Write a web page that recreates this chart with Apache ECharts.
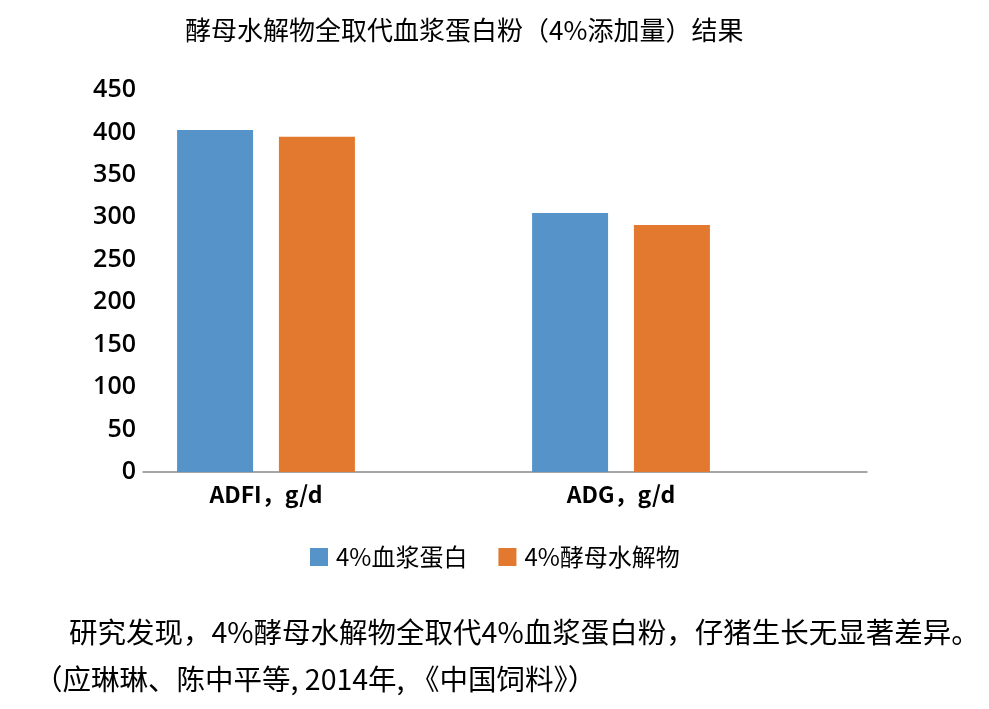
<!DOCTYPE html>
<html>
<head>
<meta charset="utf-8">
<script src="https://cdn.jsdelivr.net/npm/echarts@6/dist/echarts.min.js"></script>
<style>
html,body{margin:0;padding:0;background:#fff;}
#main{width:989px;height:709px;}
</style>
</head>
<body>
<div id="main"></div>
<script>
var titleText = '酵母水解物全取代血浆蛋白粉（4%添加量）结果';
var categories = ['ADFI，g/d', 'ADG，g/d'];
var seriesNames = ['4%血浆蛋白', '4%酵母水解物'];
var plasmaValues = [403, 305];
var yeastValues = [395, 291];
var yMin = 0, yMax = 450, yInterval = 50;
var note1 = '研究发现，4%酵母水解物全取代4%血浆蛋白粉，仔猪生长无显著差异。';
var note2 = '（应琳琳、陈中平等, 2014年, 《中国饲料》）';

var cjk = '"Noto Sans CJK SC", "Noto Sans", sans-serif';
var chart = echarts.init(document.getElementById('main'));
chart.setOption({
  backgroundColor: '#ffffff',
  animation: false,
  title: {
    text: titleText,
    left: 180, top: 12,
    textStyle: {fontFamily: cjk, fontSize: 26, fontWeight: 'normal', color: '#000'}
  },
  legend: {
    left: 305, top: 540,
    itemWidth: 18, itemHeight: 18, itemGap: 31,
    icon: 'rect',
    textStyle: {fontFamily: cjk, fontSize: 24, color: '#000', padding: [0,0,0,3]},
    data: seriesNames
  },
  grid: [
    {left: 88.5, width: 710, top: 90, bottom: 237},
    {left: 143, right: 122, top: 90, bottom: 237}
  ],
  xAxis: [
    {type: 'category', gridIndex: 0, data: categories,
     axisLine: {show: false}, axisTick: {show: false},
     axisLabel: {fontFamily: cjk, fontSize: 23, fontWeight: 'bold', color: '#000', margin: 11}},
    {type: 'value', gridIndex: 1, min: 0, max: 1,
     axisLine: {show: true, onZero: false, lineStyle: {color: '#898989', width: 1.5}},
     axisTick: {show: false}, axisLabel: {show: false}, splitLine: {show: false}}
  ],
  yAxis: [
    {type: 'value', gridIndex: 0, min: yMin, max: yMax, interval: yInterval, show: false},
    {type: 'value', gridIndex: 1, min: yMin, max: yMax, interval: yInterval,
     axisLine: {show: false}, axisTick: {show: false}, splitLine: {show: false},
     axisLabel: {fontFamily: '"Open Sans", "Noto Sans", sans-serif', fontSize: 25, fontWeight: 600, color: '#000', margin: 7}}
  ],
  series: [
    {name: seriesNames[0], type: 'bar', xAxisIndex: 0, yAxisIndex: 0, data: plasmaValues,
     barWidth: 76, barGap: '34%', itemStyle: {color: '#5593C8'}},
    {name: seriesNames[1], type: 'bar', xAxisIndex: 0, yAxisIndex: 0, data: yeastValues,
     barWidth: 76, barGap: '34%', itemStyle: {color: '#E2792F'}}
  ],
  graphic: [
    {type: 'text', left: 69, top: 618,
     style: {text: note1, font: '28.5px "Noto Sans CJK SC", sans-serif', fill: '#000'}},
    {type: 'text', left: 34, top: 665,
     style: {text: note2, font: '28.5px "Noto Sans CJK SC", sans-serif', fill: '#000'}}
  ]
});
</script>
</body>
</html>
